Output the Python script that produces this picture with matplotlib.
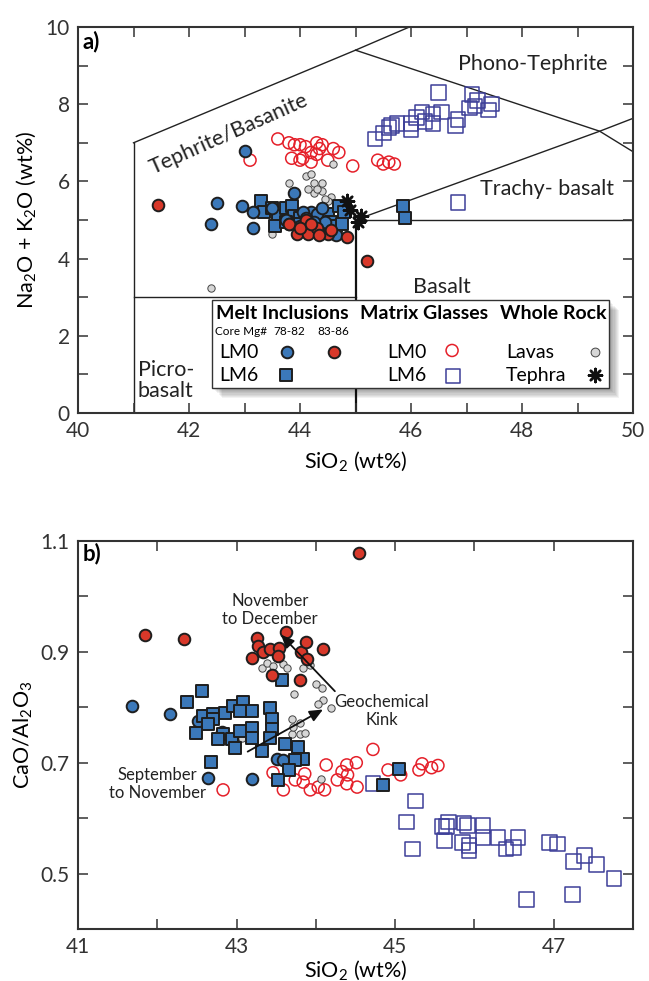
import numpy as np
import matplotlib
matplotlib.use('Agg')
import matplotlib.pyplot as plt
from matplotlib.patches import Rectangle
from matplotlib.ticker import MultipleLocator, FormatStrFormatter

plt.rcParams['font.family'] = ['Lato', 'DejaVu Sans']
plt.rcParams['mathtext.default'] = 'regular'
plt.rcParams['axes.edgecolor'] = '#333333'
plt.rcParams['xtick.color'] = '#333333'
plt.rcParams['ytick.color'] = '#333333'

# %% panel a: total alkali vs silica
# melt inclusions, LM0, core Mg# 78-82
a_mi0_lo_x = [43.0, 42.5, 42.95, 43.15, 42.4, 43.15, 43.9, 43.5, 44.2, 44.3, 43.75, 43.8, 44.5, 44.65, 44.45, 44.05, 44.4, 44.0, 44.1, 44.25]
a_mi0_lo_y = [6.8, 5.45, 5.35, 5.2, 4.9, 4.8, 5.7, 5.3, 5.2, 5.15, 5.0, 4.9, 4.75, 4.6, 4.95, 5.2, 5.3, 4.85, 5.05, 4.95]
# melt inclusions, LM0, core Mg# 83-86
a_mi0_hi_x = [41.45, 44.1, 43.95, 44.15, 44.3, 44.5, 44.55, 44.85, 45.2, 43.8, 44.35, 44.0, 44.2]
a_mi0_hi_y = [5.4, 5.0, 4.65, 4.65, 4.8, 4.65, 4.75, 4.55, 3.95, 4.9, 4.6, 4.8, 4.9]
# melt inclusions, LM6
a_mi6_x = [43.3, 43.35, 43.5, 43.6, 43.75, 43.85, 43.9, 44.0, 43.55, 43.75, 44.0, 44.3, 44.5, 44.55, 44.65, 44.7, 44.8, 44.75, 44.4, 45.85, 45.9]
a_mi6_y = [5.5, 5.2, 5.3, 5.1, 5.3, 5.35, 5.1, 5.05, 4.85, 4.95, 4.9, 4.95, 5.15, 4.95, 4.85, 5.35, 5.2, 4.9, 4.8, 5.35, 5.05]
# matrix glasses LM0 / LM6
a_mg0_x = [43.1, 43.6, 43.8, 44.0, 44.1, 44.3, 44.4, 44.6, 44.7, 43.85, 44.05, 44.3, 44.35, 44.5, 43.9, 44.2, 44.95, 45.4, 45.5, 45.6, 45.7, 44.0, 44.2]
a_mg0_y = [6.55, 7.1, 7.0, 6.95, 6.9, 7.0, 6.95, 6.85, 6.75, 6.6, 6.6, 6.7, 6.85, 6.55, 6.95, 6.75, 6.4, 6.55, 6.45, 6.5, 6.45, 6.55, 6.5]
a_mg6_x = [46.5, 47.1, 47.2, 47.45, 47.4, 47.15, 47.05, 46.85, 46.8, 46.55, 46.4, 46.2, 46.1, 46.0, 45.75, 45.65, 45.6, 45.5, 45.35, 46.4, 46.25, 46.0, 46.85]
a_mg6_y = [8.3, 8.25, 8.1, 8.0, 7.85, 7.95, 7.9, 7.6, 7.45, 7.8, 7.5, 7.8, 7.65, 7.5, 7.5, 7.45, 7.4, 7.25, 7.1, 7.75, 7.55, 7.35, 5.45]
# whole rock
a_lava_x = [44.6, 44.1, 44.2, 43.8, 44.25, 44.4, 44.25, 44.4, 44.55, 44.5, 43.5, 42.4, 44.3, 44.45, 44.15]
a_lava_y = [6.45, 6.15, 6.2, 5.95, 5.95, 5.95, 5.7, 5.75, 5.6, 5.5, 4.65, 3.25, 5.8, 5.55, 5.8]
a_teph_x = [44.85, 44.9, 45.1, 45.05]
a_teph_y = [5.5, 5.25, 5.1, 4.95]

# TAS field boundaries (Le Bas et al. 1986)
tas_lines = [
    [(41, 0), (41, 7)],
    [(41, 7), (45, 9.4), (48.4, 11.5)],
    [(41, 3), (45, 3)],
    [(45, 5), (52, 5)],
    [(45, 5), (49.4, 7.3), (53, 9.3)],
    [(45, 9.4), (49.4, 7.3), (52, 5)],
]
tas_fields = [
    ('Tephrite/Basanite', 42.72, 7.22, 24),
    ('Phono-Tephrite', 48.2, 9.05, 0),
    ('Trachy- basalt', 48.45, 5.8, 0),
    ('Basalt', 46.55, 3.27, 0),
]

# %% panel b: CaO/Al2O3 vs silica
b_mi0_lo_x = [41.68, 42.16, 42.51, 42.64, 43.19, 43.51, 43.59, 42.82]
b_mi0_lo_y = [0.802, 0.787, 0.776, 0.673, 0.671, 0.707, 0.705, 0.756]
b_mi0_hi_x = [44.54, 41.84, 42.34, 43.26, 43.27, 43.33, 43.42, 43.62, 43.53, 43.52, 43.2, 43.81, 43.88, 43.89, 44.09, 43.45, 43.8]
b_mi0_hi_y = [1.078, 0.931, 0.924, 0.925, 0.911, 0.9, 0.905, 0.935, 0.907, 0.893, 0.889, 0.9, 0.918, 0.887, 0.905, 0.858, 0.849]
b_mi6_x = [43.57, 42.56, 42.37, 42.58, 42.7, 42.85, 42.95, 43.08, 43.19, 43.04, 42.7, 42.64, 42.49, 42.83, 42.77, 42.94, 43.04,
           43.19, 43.19, 42.98, 42.68, 43.42, 43.45, 43.45, 43.42, 43.32, 43.61, 43.77, 43.84, 43.74, 43.66, 43.52, 45.05, 44.85]
b_mi6_y = [0.849, 0.83, 0.809, 0.784, 0.787, 0.789, 0.802, 0.81, 0.793, 0.794, 0.778, 0.769, 0.753, 0.751, 0.742, 0.742, 0.758,
           0.762, 0.744, 0.727, 0.702, 0.798, 0.778, 0.76, 0.744, 0.722, 0.733, 0.729, 0.707, 0.705, 0.687, 0.669, 0.689, 0.66]
b_lava_x = [43.32, 43.38, 43.46, 43.59, 43.64, 43.84, 43.93, 44.0, 44.08, 43.72, 44.09, 44.03, 44.19, 43.7, 43.8, 43.7, 43.8,
            43.86, 43.71, 44.06, 43.07]
b_lava_y = [0.871, 0.88, 0.875, 0.878, 0.871, 0.871, 0.876, 0.842, 0.835, 0.824, 0.813, 0.806, 0.799, 0.778, 0.771, 0.751, 0.751,
            0.753, 0.765, 0.671, 0.745]
b_mg0_x = [42.83, 43.46, 43.59, 43.74, 43.84, 43.86, 43.93, 44.03, 44.11, 44.13, 44.27, 44.33, 44.4, 44.39, 44.51, 44.52, 44.39,
           44.72, 44.91, 45.07, 45.3, 45.34, 45.46, 45.54]
b_mg0_y = [0.651, 0.682, 0.651, 0.669, 0.665, 0.68, 0.651, 0.656, 0.651, 0.696, 0.669, 0.684, 0.678, 0.696, 0.7, 0.656, 0.662,
           0.724, 0.687, 0.678, 0.687, 0.698, 0.691, 0.695]
b_mg6_x = [44.72, 45.26, 45.14, 45.22, 45.67, 45.59, 45.62, 45.65, 45.87, 45.91, 45.85, 45.93, 45.93, 46.11, 46.11, 46.3, 46.4,
           46.49, 46.55, 46.66, 46.95, 47.05, 47.25, 47.39, 47.24, 47.54, 47.76]
b_mg6_y = [0.662, 0.631, 0.593, 0.544, 0.593, 0.585, 0.56, 0.585, 0.591, 0.587, 0.556, 0.551, 0.542, 0.587, 0.565, 0.565, 0.544,
           0.547, 0.565, 0.453, 0.556, 0.553, 0.522, 0.533, 0.462, 0.516, 0.491]

# marker styles
BLUE = '#3b78b9'
RED = '#d8382a'
EDGE = '#1e1e1e'
ORED = '#e5202a'
OBLUE = '#3d3f98'
GREY = '#d6d6d6'

st_mi0_lo = dict(marker='o', s=70, c=BLUE, edgecolors=EDGE, linewidths=1.4)
st_mi0_hi = dict(marker='o', s=70, c=RED, edgecolors=EDGE, linewidths=1.4)
st_mi6 = dict(marker='s', s=75, c=BLUE, edgecolors=EDGE, linewidths=1.4)
st_mg0 = dict(marker='o', s=75, facecolors='none', edgecolors=ORED, linewidths=1.1)
st_mg6 = dict(marker='s', s=110, facecolors='none', edgecolors=OBLUE, linewidths=1.1)
st_lava = dict(marker='o', s=28, c=GREY, edgecolors='#444444', linewidths=0.7)
st_teph = dict(marker=(8, 2, 0), s=90, c='#111111', linewidths=1.8)


def style_axes(ax):
    for sp in ax.spines.values():
        sp.set_linewidth(1.5)
    ax.tick_params(which='both', direction='in', top=True, right=True, labelsize=15, width=1.1)
    ax.tick_params(which='major', length=7, pad=6)
    ax.tick_params(which='minor', length=7)


fig = plt.figure(figsize=(6.49, 9.81), dpi=100)

# ---------------- a) ----------------
ax = fig.add_axes([78 / 649, 1 - 413 / 981, 555 / 649, 386 / 981])
ax.set_xlim(40, 50)
ax.set_ylim(0, 10)
for seg in tas_lines:
    xs, ys = zip(*seg)
    ax.plot(xs, ys, color='#222222', lw=1.0, zorder=1)
ax.plot([45, 45], [0, 5], color='#111111', lw=1.6, zorder=1)
for name, tx, ty, rot in tas_fields:
    ax.text(tx, ty, name, fontsize=15.5, rotation=rot, ha='center', va='center', color='#222222')
ax.text(41.08, 0.85, 'Picro-\nbasalt', fontsize=15.5, ha='left', va='center', color='#222222', linespacing=1.05)

ax.scatter(a_mg0_x, a_mg0_y, zorder=2, **st_mg0)
ax.scatter(a_mg6_x, a_mg6_y, zorder=2, **st_mg6)
ax.scatter(a_lava_x, a_lava_y, zorder=3, **st_lava)
ax.scatter(a_mi6_x, a_mi6_y, zorder=4, **st_mi6)
ax.scatter(a_mi0_lo_x, a_mi0_lo_y, zorder=4, **st_mi0_lo)
ax.scatter(a_mi0_hi_x, a_mi0_hi_y, zorder=5, **st_mi0_hi)
ax.scatter(a_teph_x, a_teph_y, zorder=6, **st_teph)

ax.xaxis.set_major_locator(MultipleLocator(2))
ax.xaxis.set_minor_locator(MultipleLocator(1))
ax.yaxis.set_major_locator(MultipleLocator(2))
ax.yaxis.set_minor_locator(MultipleLocator(1))
style_axes(ax)
ax.set_xlabel('SiO$_2$ (wt%)', fontsize=15.5)
ax.set_ylabel('Na$_2$O + K$_2$O (wt%)', fontsize=15.5)
ax.xaxis.set_label_coords(0.5, -0.095)
ax.yaxis.set_label_coords(-0.072, 0.5)
ax.text(0.008, 0.962, 'a)', transform=ax.transAxes, fontsize=16, fontweight='bold', ha='left', va='center')

# legend box with soft drop shadow
lx0, ly0, lw_, lh_ = 0.2414, 0.0648, 0.7154, 0.2279
for k in range(1, 10):
    ax.add_patch(Rectangle((lx0 + k * 1.1 / 555, ly0 - k * 1.1 / 386), lw_, lh_, transform=ax.transAxes,
                           facecolor='#000000', alpha=0.05, edgecolor='none', zorder=8))
ax.add_patch(Rectangle((lx0, ly0), lw_, lh_, transform=ax.transAxes, facecolor='white',
                       edgecolor='#333333', lw=1.0, zorder=9))
T = ax.transAxes
hdr = dict(transform=T, fontsize=14, fontweight='bold', va='center', ha='left', zorder=10)
ax.text(0.248, 0.259, 'Melt Inclusions', **hdr)
ax.text(0.508, 0.259, 'Matrix Glasses', **hdr)
ax.text(0.760, 0.259, 'Whole Rock', **hdr)
sm = dict(transform=T, fontsize=8.5, va='center', zorder=10)
ax.text(0.246, 0.210, 'Core Mg#', ha='left', **sm)
ax.text(0.380, 0.210, '78-82', ha='center', **sm)
ax.text(0.460, 0.210, '83-86', ha='center', **sm)
row = dict(transform=T, fontsize=14, va='center', ha='left', zorder=10)
ax.text(0.254, 0.158, 'LM0', **row)
ax.text(0.254, 0.098, 'LM6', **row)
ax.text(0.557, 0.158, 'LM0', **row)
ax.text(0.557, 0.098, 'LM6', **row)
ax.text(0.771, 0.158, 'Lavas', **row)
ax.text(0.771, 0.098, 'Tephra', **row)
ax.scatter([0.377], [0.158], transform=T, zorder=11, **st_mi0_lo)
ax.scatter([0.461], [0.158], transform=T, zorder=11, **st_mi0_hi)
ax.scatter([0.375], [0.098], transform=T, zorder=11, **st_mi6)
ax.scatter([0.674], [0.162], transform=T, zorder=11, **st_mg0)
ax.scatter([0.676], [0.096], transform=T, zorder=11, **st_mg6)
ax.scatter([0.932], [0.158], transform=T, zorder=11, **dict(st_lava, s=40))
ax.scatter([0.932], [0.098], transform=T, zorder=11, **st_teph)

# ---------------- b) ----------------
bx = fig.add_axes([78 / 649, 1 - 929 / 981, 555 / 649, 388 / 981])
bx.set_xlim(41, 48)
bx.set_ylim(0.4, 1.1)
bx.scatter(b_mg0_x, b_mg0_y, zorder=2, **st_mg0)
bx.scatter(b_mg6_x, b_mg6_y, zorder=2, **st_mg6)
bx.scatter(b_lava_x, b_lava_y, zorder=3, **st_lava)
bx.scatter(b_mi0_lo_x, b_mi0_lo_y, zorder=4, **st_mi0_lo)
bx.scatter(b_mi6_x, b_mi6_y, zorder=4, **st_mi6)
bx.scatter(b_mi0_hi_x, b_mi0_hi_y, zorder=5, **st_mi0_hi)

arr = dict(arrowstyle='-|>,head_length=0.8,head_width=0.35', color='#111111', lw=1.3, shrinkA=0, shrinkB=0)
bx.annotate('', xy=(43.56, 0.931), xytext=(44.24, 0.829), arrowprops=arr, zorder=7)
bx.annotate('', xy=(44.09, 0.796), xytext=(43.14, 0.72), arrowprops=arr, zorder=7)
note = dict(fontsize=12, ha='center', va='center', color='#222222', linespacing=1.15, zorder=8)
bx.text(43.42, 0.975, 'November\nto December', **note)
bx.text(44.83, 0.793, 'Geochemical\nKink', **note)
bx.text(42.0, 0.662, 'September\nto November', **note)

bx.xaxis.set_major_locator(MultipleLocator(2))
bx.xaxis.set_minor_locator(MultipleLocator(1))
bx.yaxis.set_major_locator(MultipleLocator(0.2))
bx.yaxis.set_minor_locator(MultipleLocator(0.1))
bx.yaxis.set_major_formatter(FormatStrFormatter('%.1f'))
bx.set_xticks([41, 43, 45, 47])
bx.set_yticks([0.5, 0.7, 0.9, 1.1])
style_axes(bx)
bx.set_xlabel('SiO$_2$ (wt%)', fontsize=15.5)
bx.set_ylabel('CaO/Al$_2$O$_3$', fontsize=15.5)
bx.xaxis.set_label_coords(0.5, -0.075)
bx.yaxis.set_label_coords(-0.078, 0.5)
bx.text(0.008, 0.969, 'b)', transform=bx.transAxes, fontsize=16, fontweight='bold', ha='left', va='center')

fig.savefig('out.png', dpi=100)
